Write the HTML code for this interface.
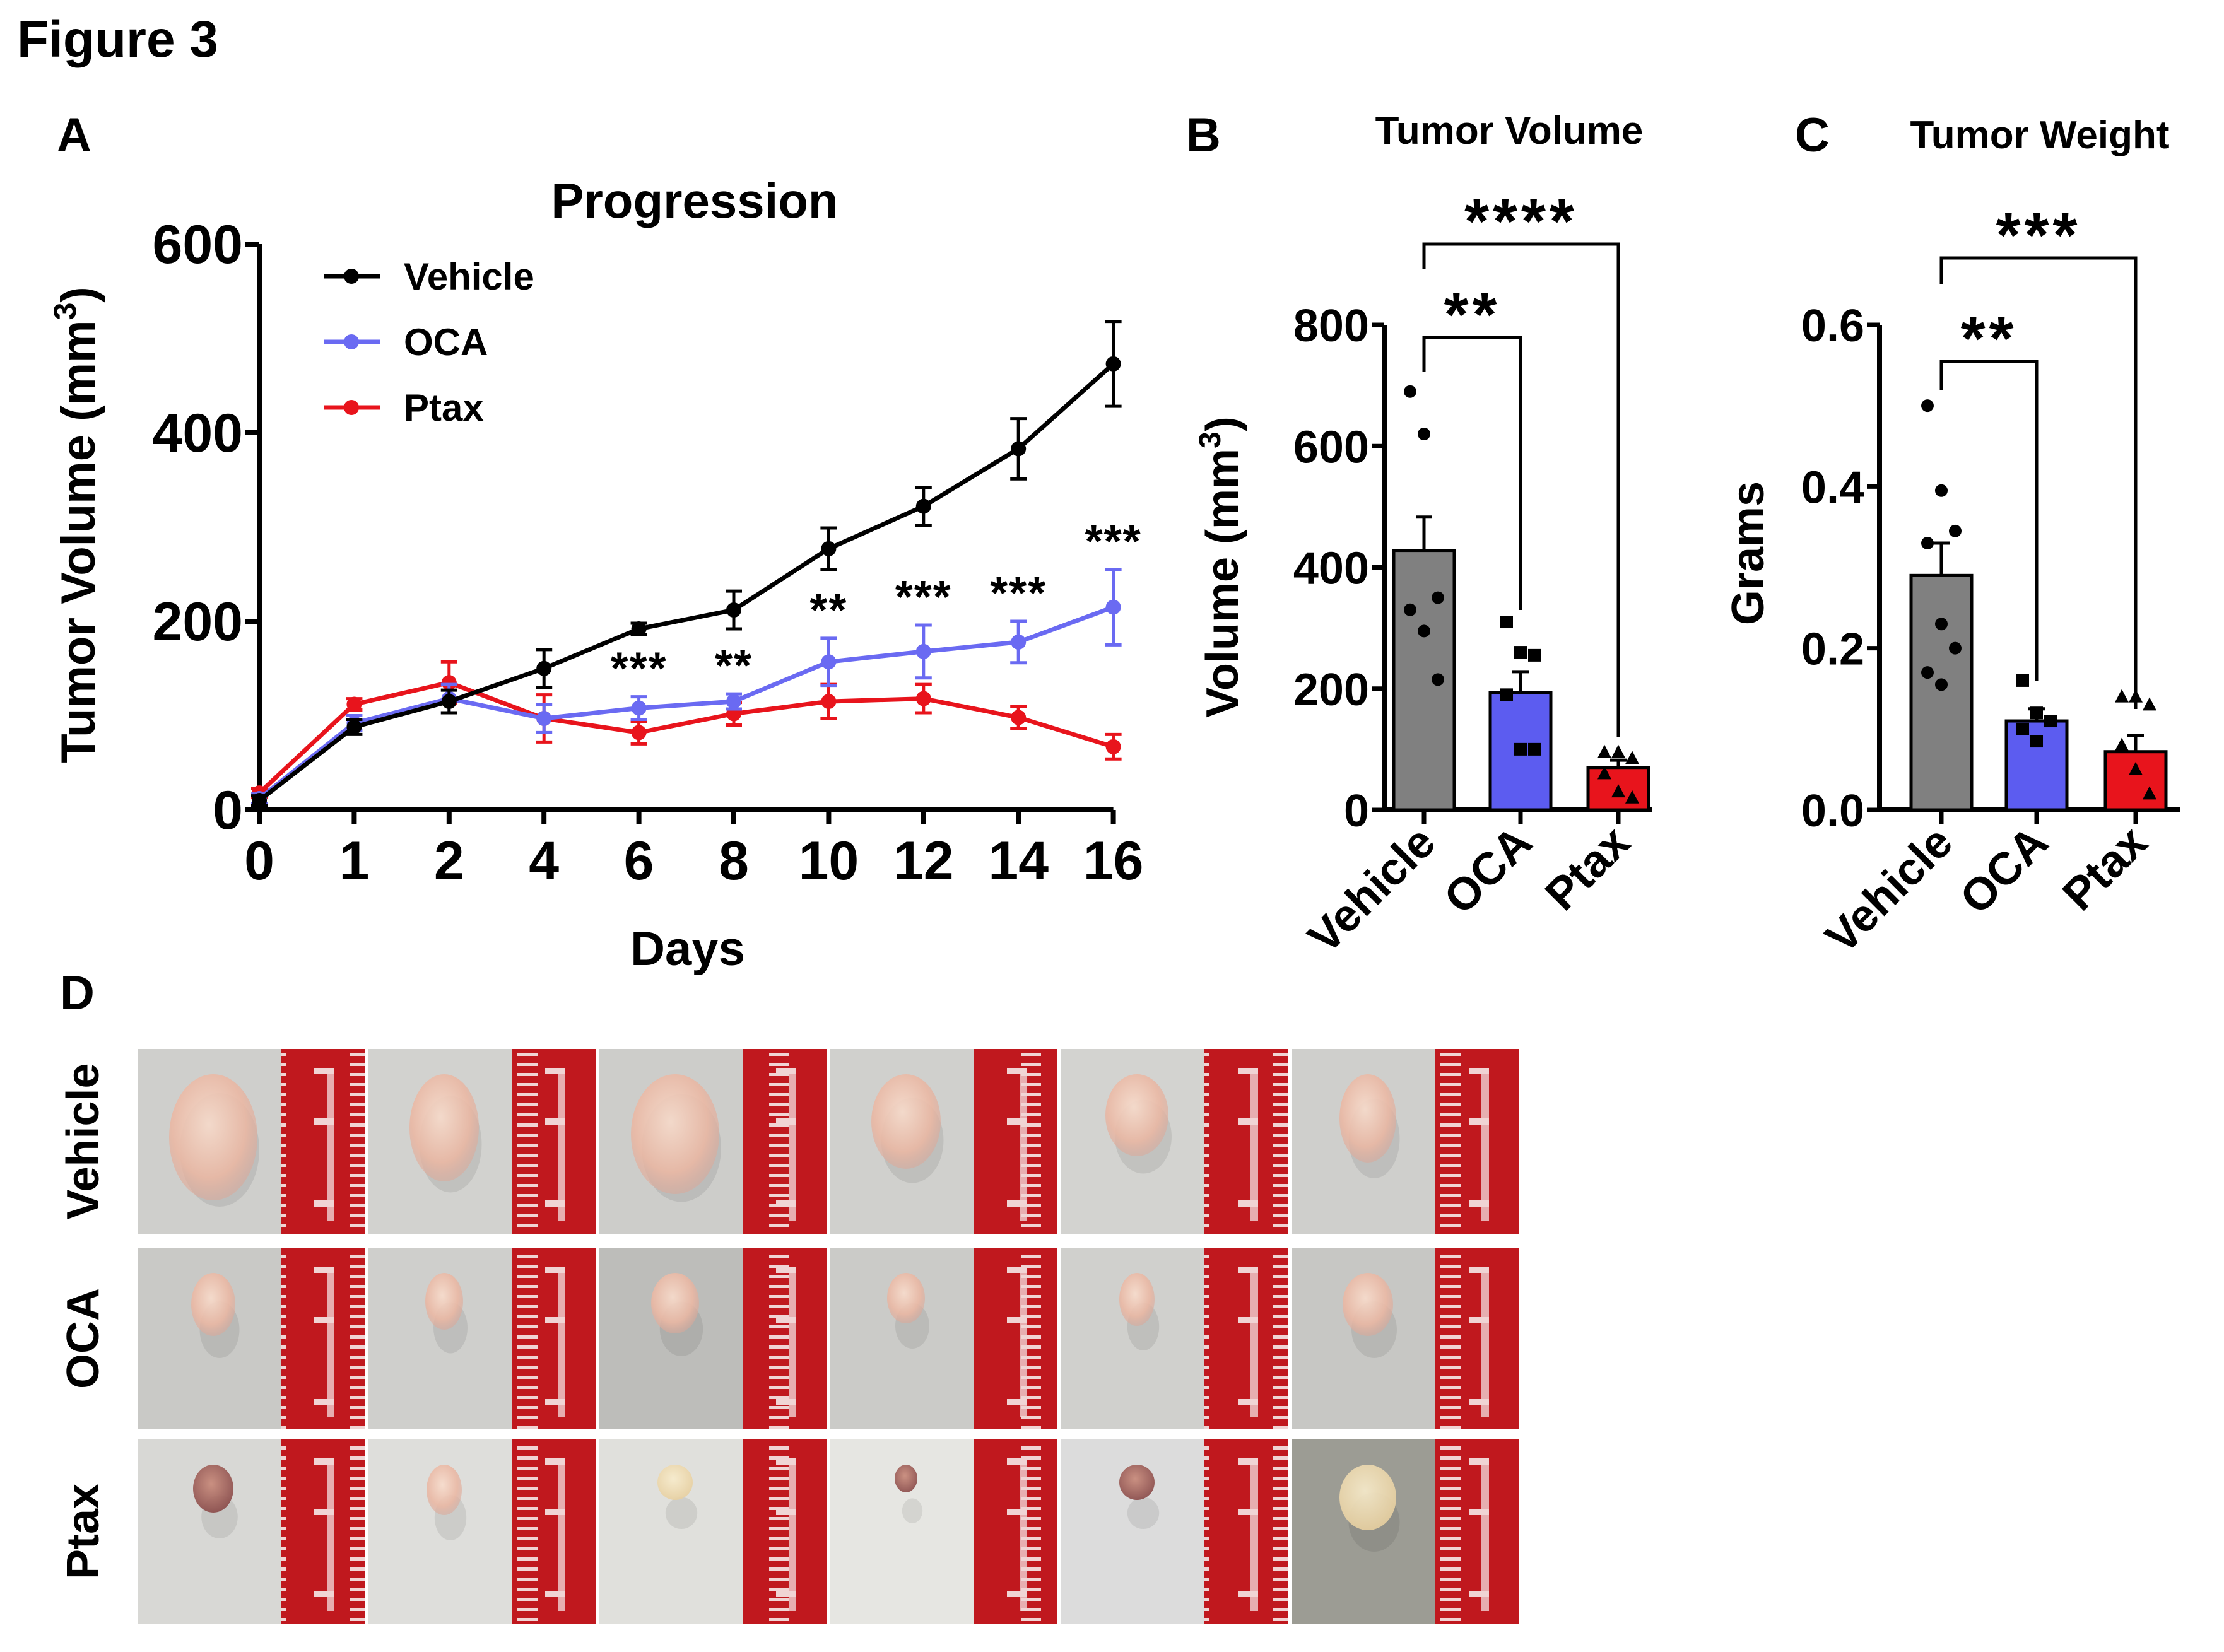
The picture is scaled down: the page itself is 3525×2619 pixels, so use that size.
<!DOCTYPE html>
<html><head><meta charset="utf-8"><style>
html,body{margin:0;padding:0;background:#fff;}
svg{display:block;font-family:"Liberation Sans",Arial,sans-serif;font-weight:bold;}
</style></head><body>
<svg id="fig" width="3525" height="2619" viewBox="0 0 3525 2619" xmlns="http://www.w3.org/2000/svg">
<defs>
<pattern id="rticks" width="133" height="16" patternUnits="userSpaceOnUse">
<rect x="0" y="0" width="133" height="16" fill="#c0181e"/>
<rect x="22" y="5" width="32" height="5" fill="#f0d4d4"/>
</pattern>
<radialGradient id="tumA" cx="45%" cy="40%" r="60%"><stop offset="0" stop-color="#f8dccc"/><stop offset="0.7" stop-color="#eab8a4"/><stop offset="1" stop-color="#dca898" stop-opacity="0.6"/></radialGradient>
<radialGradient id="tumB" cx="45%" cy="40%" r="60%"><stop offset="0" stop-color="#c88878"/><stop offset="1" stop-color="#8a4a48"/></radialGradient>
<radialGradient id="tumC" cx="45%" cy="40%" r="60%"><stop offset="0" stop-color="#f8eccc"/><stop offset="1" stop-color="#e8d0a0"/></radialGradient>
</defs>
<text x="27" y="90" font-size="82">Figure 3</text>
<text x="90" y="240" font-size="76">A</text>
<text x="1880" y="240" font-size="76">B</text>
<text x="2845" y="240" font-size="76">C</text>
<text x="95" y="1600" font-size="76">D</text>
<g id="gA"></g>
<g id="gB"></g>
<g id="gC"></g>
<g id="gD"></g>
</svg>
<script>
// ---- Panel A data ----
const daysA = ["0","1","2","4","6","8","10","12","14","16"];
const vehicleMean = [10, 88, 115, 150, 192, 212, 277, 322, 383, 473];
const vehicleErr = [5, 8, 12, 20, 6, 20, 22, 20, 32, 45];
const ocaMean = [12, 92, 118, 97, 108, 115, 157, 168, 178, 215];
const ocaErr = [5, 8, 15, 15, 12, 8, 25, 28, 22, 40];
const ptaxMean = [18, 112, 135, 97, 82, 102, 115, 118, 98, 67];
const ptaxErr = [5, 6, 22, 25, 12, 12, 18, 15, 12, 13];
const sigA = ["", "", "", "", "***", "**", "**", "***", "***", "***"];
const ticksA = [0, 200, 400, 600];
// ---- Panel B data ----
const groups = ["Vehicle", "OCA", "Ptax"];
const volMean = [428, 193, 70];
const volErr = [55, 35, 12];
const volVeh = [690, 620, 350, 330, 295, 215];
const volOca = [310, 260, 255, 190, 100, 100];
const volPtax = [95, 95, 85, 60, 30, 20];
const ticksB = [0, 200, 400, 600, 800];
// ---- Panel C data ----
const wMean = [0.29, 0.11, 0.072];
const wErr = [0.04, 0.015, 0.02];
const wVeh = [0.5, 0.395, 0.345, 0.33, 0.23, 0.2, 0.17, 0.155];
const wOca = [0.16, 0.12, 0.11, 0.1, 0.085];
const wPtax = [0.14, 0.14, 0.13, 0.08, 0.05, 0.02];
const ticksC = ["0.0", "0.2", "0.4", "0.6"];

const NS = "http://www.w3.org/2000/svg";
function mk(parent, tag, attrs, txt) {
  const e = document.createElementNS(NS, tag);
  for (const k in attrs) e.setAttribute(k, attrs[k]);
  if (txt !== undefined) e.textContent = txt;
  parent.appendChild(e);
  return e;
}

// ===== Panel A =====
(function () {
  const g = document.getElementById("gA");
  const x0 = 411, dx = 150.4, y0 = 1284, ky = (1284 - 387) / 600;
  const X = i => x0 + i * dx;
  const Y = v => y0 - v * ky;
  let t = mk(g, "text", {x: 1101, y: 345, "font-size": 78, "text-anchor": "middle"}, "Progression");
  
  
  t = mk(g, "text", {x: 0, y: 0, "font-size": 76, "text-anchor": "middle", transform: "translate(150,832) rotate(-90)"});
  
  
  t.innerHTML = 'Tumor Volume (mm<tspan dy="-30" font-size="50">3</tspan><tspan dy="30">)</tspan>';
  t = mk(g, "text", {x: 1090, y: 1530, "font-size": 76, "text-anchor": "middle"}, "Days");
  
  
  let ax = mk(g, "path", {d: `M${x0} ${Y(600)} V${y0} H${X(9)}`, stroke: "#000", "stroke-width": 8, fill: "none"});
  
  
  ticksA.forEach(v => {
    const l = mk(g, "line", {x1: x0 - 22, x2: x0, y1: Y(v), y2: Y(v), stroke: "#000", "stroke-width": 8});
    
    
    const tt = mk(g, "text", {x: x0 - 26, y: Y(v) + 30, "font-size": 86, "text-anchor": "end"}, String(v));
    
    
  });
  daysA.forEach((d, i) => {
    const l = mk(g, "line", {x1: X(i), x2: X(i), y1: y0, y2: y0 + 22, stroke: "#000", "stroke-width": 8});
    
    
    const tt = mk(g, "text", {x: X(i), y: y0 + 110, "font-size": 86, "text-anchor": "middle"}, d);
    
    
  });
  const series = [
    {name: "ptax", c: "#e8141c", m: ptaxMean, e: ptaxErr},
    {name: "oca", c: "#6a6af2", m: ocaMean, e: ocaErr},
    {name: "vehicle", c: "#000", m: vehicleMean, e: vehicleErr}
  ];
  series.forEach(s => {
    const sg = mk(g, "g", {});
    
    
    const pl = mk(sg, "polyline", {points: s.m.map((v, i) => X(i) + "," + Y(v)).join(" "), stroke: s.c, "stroke-width": 7, fill: "none"});
    
    
    s.m.forEach((v, i) => {
      const eb = mk(sg, "path", {d: `M${X(i)} ${Y(v + s.e[i])} V${Y(v - s.e[i])} M${X(i) - 13} ${Y(v + s.e[i])} H${X(i) + 13} M${X(i) - 13} ${Y(v - s.e[i])} H${X(i) + 13}`, stroke: s.c, "stroke-width": 5, fill: "none"});
      
      
      const p = mk(sg, "circle", {cx: X(i), cy: Y(v), r: 12, fill: s.c});
      
      
    });
  });
  sigA.forEach((s, i) => {
    if (!s) return;
    const tt = mk(g, "text", {x: X(i), y: Y(ocaMean[i] + ocaErr[i]) - 20, "font-size": 72, "text-anchor": "middle", "letter-spacing": 2}, s);
    
    
  });
  const leg = [["Vehicle", "#000"], ["OCA", "#6a6af2"], ["Ptax", "#e8141c"]];
  leg.forEach((L, k) => {
    const yy = 438 + k * 104;
    const lg = mk(g, "g", {});
    
    
    mk(lg, "line", {x1: 513, x2: 602, y1: yy, y2: yy, stroke: L[1], "stroke-width": 7});
    mk(lg, "circle", {cx: 557, cy: yy, r: 12, fill: L[1]});
    mk(lg, "text", {x: 640, y: yy + 21, "font-size": 60}, L[0]);
  });
})();

// ===== bar chart helper =====
function barChart(gid, o) {
  const g = document.getElementById(gid);
  const Y = v => 1284 - v * o.ky;
  let t = mk(g, "text", {x: o.titleX, y: o.titleY, "font-size": 62, "text-anchor": "middle"}, o.title);
  
  
  t = mk(g, "text", {x: 0, y: 0, "font-size": 72, "text-anchor": "middle", transform: `translate(${o.ytX},${o.ytY}) rotate(-90)`});
  
  
  t.innerHTML = o.ytitle;
  const ax = mk(g, "path", {d: `M${o.ax} ${Y(o.tickVals[o.tickVals.length - 1])} V1284 H${o.xEnd}`, stroke: "#000", "stroke-width": 8, fill: "none"});
  
  
  o.tickVals.forEach((v, k) => {
    const l = mk(g, "line", {x1: o.ax - 20, x2: o.ax, y1: Y(v), y2: Y(v), stroke: "#000", "stroke-width": 7});
    
    
    const tt = mk(g, "text", {x: o.ax - 24, y: Y(v) + 26, "font-size": 72, "text-anchor": "end"}, o.tickLabels[k]);
    
    
  });
  const colors = ["#808080", "#5c5cf0", "#e8141c"];
  const markers = ["circle", "square", "triangle"];
  groups.forEach((gname, i) => {
    const cx = o.cx[i], hw = 48;
    const b = mk(g, "rect", {x: cx - hw, y: Y(o.mean[i]), width: hw * 2, height: 1284 - Y(o.mean[i]), fill: colors[i], stroke: "#000", "stroke-width": 5});
    
    
    const eb = mk(g, "path", {d: `M${cx} ${Y(o.mean[i])} V${Y(o.mean[i] + o.err[i])} M${cx - 13} ${Y(o.mean[i] + o.err[i])} H${cx + 13}`, stroke: "#000", "stroke-width": 5, fill: "none"});
    
    
    o.pts[i].forEach((v, j) => {
      const px = cx + ((j % 3) - 1) * 22;
      let p;
      if (markers[i] === "circle") p = mk(g, "circle", {cx: px, cy: Y(v), r: 10, fill: "#000"});
      else if (markers[i] === "square") p = mk(g, "rect", {x: px - 10, y: Y(v) - 10, width: 20, height: 20, fill: "#000"});
      else p = mk(g, "polygon", {points: `${px},${Y(v) - 12} ${px - 11},${Y(v) + 9} ${px + 11},${Y(v) + 9}`, fill: "#000"});
      
      
    });
    const tk = mk(g, "line", {x1: cx, x2: cx, y1: 1284, y2: 1306, stroke: "#000", "stroke-width": 7});
    
    
    const tl = mk(g, "text", {x: 0, y: 0, "font-size": 72, "text-anchor": "end", transform: `translate(${cx + 22},${1340}) rotate(-45)`}, gname);
    
    
  });
  o.brackets.forEach(br => {
    const x1 = o.cx[0], x2 = o.cx[br.to];
    const p = mk(g, "path", {d: `M${x1} ${br.y1} V${br.y} H${x2} V${br.y2}`, stroke: "#000", "stroke-width": 5, fill: "none"});
    
    
    const tt = mk(g, "text", {x: (x1 + x2) / 2 + br.dx, y: br.y - 2, "font-size": 100, "text-anchor": "middle", "letter-spacing": 6}, br.s);
    
    
  });
}
barChart("gB", {
  title: "Tumor Volume", titleX: 2392, titleY: 228, ytX: 1962, ytY: 899,
  ytitle: 'Volume (mm<tspan dy="-28" font-size="48">3</tspan><tspan dy="28">)</tspan>',
  ax: 2194, xEnd: 2619, ky: 769 / 800, tickVals: ticksB, tickLabels: ticksB.map(String),
  cx: [2257, 2410, 2565], mean: volMean, err: volErr, pts: [volVeh, volOca, volPtax],
  brackets: [{to: 1, y: 535, y1: 590, y2: 967, s: "**", dx: 0}, {to: 2, y: 387, y1: 427, y2: 1169, s: "****", dx: 0}]
});
barChart("gC", {
  title: "Tumor Weight", titleX: 3233, titleY: 235, ytX: 2795, ytY: 877,
  ytitle: 'Grams',
  ax: 2979, xEnd: 3455, ky: 769 / 0.6, tickVals: ticksC.map(Number), tickLabels: ticksC,
  cx: [3077, 3228, 3385], mean: wMean, err: wErr, pts: [wVeh, wOca, wPtax],
  brackets: [{to: 1, y: 573, y1: 618, y2: 1079, s: "**", dx: 0}, {to: 2, y: 409, y1: 450, y2: 1124, s: "***", dx: 0}]
});

// ===== Panel D photos =====
(function () {
  const g = document.getElementById("gD");
  const rows = [["Vehicle", 1663, 293], ["OCA", 1978, 288], ["Ptax", 2282, 292]];
  const bgs = [["#cfcfcc", "#d2d2cf", "#cdcdca", "#d0d0cd", "#d3d3d0", "#cfcfcc"],
               ["#c9c9c6", "#cfcfcc", "#bdbdba", "#cbcbc8", "#d0d0cd", "#c7c7c4"],
               ["#d8d8d5", "#dededb", "#e0e0dc", "#e6e6e2", "#dcdcdc", "#9c9c94"]];
  const sizes = [[[70, 100], [55, 85], [70, 95], [55, 75], [50, 65], [45, 70]],
                 [[35, 50], [30, 45], [38, 48], [30, 40], [28, 42], [40, 50]],
                 [[32, 38], [28, 40], [28, 28], [18, 22], [28, 28], [45, 52]]];
  const fills = [["url(#tumA)", "url(#tumA)", "url(#tumA)", "url(#tumA)", "url(#tumA)", "url(#tumA)"],
                 ["url(#tumA)", "url(#tumA)", "url(#tumA)", "url(#tumA)", "url(#tumA)", "url(#tumA)"],
                 ["url(#tumB)", "url(#tumA)", "url(#tumC)", "url(#tumB)", "url(#tumB)", "url(#tumC)"]];
  rows.forEach((r, ri) => {
    const tl = mk(g, "text", {x: 0, y: 0, "font-size": 72, "text-anchor": "middle", transform: `translate(156,${r[1] + r[2] / 2}) rotate(-90)`}, r[0]);
    
    
    for (let c = 0; c < 6; c++) {
      const x = 218 + c * 366, y = r[1];
      const cell = mk(g, "g", {});
      
      
      mk(cell, "rect", {x: x, y: y, width: 360, height: r[2], fill: bgs[ri][c]});
      const s = sizes[ri][c];
      mk(cell, "ellipse", {cx: x + 130, cy: y + 100 + s[1] * 0.6, rx: s[0] * 0.9, ry: s[1] * 0.9, fill: "#000", opacity: 0.08});
      mk(cell, "ellipse", {cx: x + 120, cy: y + 40 + s[1], rx: s[0], ry: s[1], fill: fills[ri][c], opacity: 0.9});
      mk(cell, "rect", {x: x + 227, y: y, width: 133, height: r[2], fill: "url(#rticks)"});
      mk(cell, "rect", {x: x + 300, y: y + 30, width: 12, height: r[2] - 50, fill: "#f0d4d4", opacity: 0.8});
      mk(cell, "rect", {x: x + 280, y: y + 30, width: 32, height: 10, fill: "#f0d4d4"});
      mk(cell, "rect", {x: x + 280, y: y + 110, width: 32, height: 10, fill: "#f0d4d4"});
      mk(cell, "rect", {x: x + 280, y: y + 240, width: 32, height: 10, fill: "#f0d4d4"});
    }
  });
})();
</script>
</body></html>
